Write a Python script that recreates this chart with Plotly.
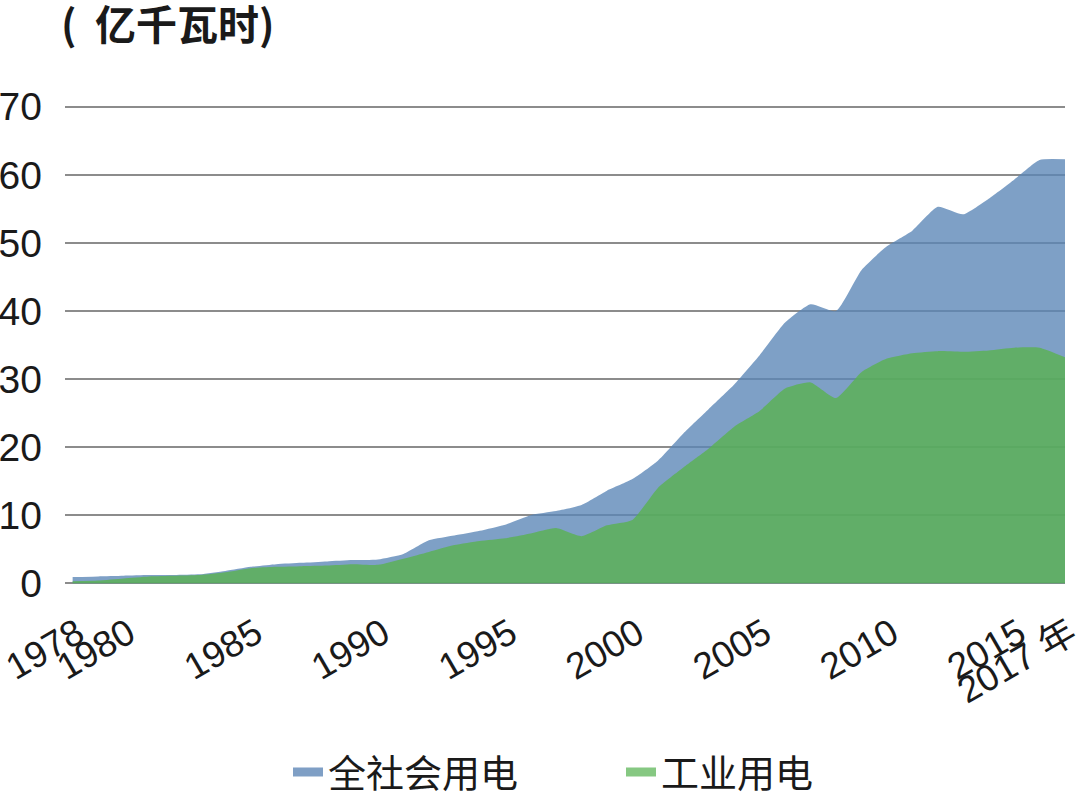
import plotly.graph_objects as go

# 1978-2017, values
years = list(range(1978, 2018))

total_use = [
    0.9, 1.0, 1.1, 1.2, 1.2, 1.3, 1.8, 2.4, 2.8, 3.0,
    3.2, 3.4, 3.5, 4.3, 6.3, 7.0, 7.7, 8.6, 10.0, 10.6,
    11.5, 13.6, 15.3, 18.0, 22.0, 25.6, 29.2, 33.5, 38.3, 41.0,
    40.0, 46.0, 49.5, 51.8, 55.3, 54.2, 56.5, 59.3, 62.2, 62.3,
]
industry_use = [
    0.3, 0.4, 0.7, 1.0, 1.1, 1.2, 1.6, 2.2, 2.4, 2.5,
    2.6, 2.8, 2.7, 3.6, 4.6, 5.6, 6.2, 6.6, 7.3, 8.1,
    6.9, 8.5, 9.3, 14.0, 17.0, 19.8, 23.0, 25.3, 28.6, 29.5,
    27.2, 31.0, 33.0, 33.8, 34.1, 34.0, 34.2, 34.6, 34.6, 33.2,
]

tick_years = [1978, 1980, 1985, 1990, 1995, 2000, 2005, 2010, 2015, 2017]
tick_text = ["1978", "1980", "1985", "1990", "1995", "2000", "2005", "2010", "2015", "2017 年"]
y_ticks = [0, 10, 20, 30, 40, 50, 60, 70]

FONT = "Liberation Sans, Arial, Noto Sans CJK SC"
CJK = "Noto Sans CJK SC"

fig = go.Figure()
fig.add_trace(go.Scatter(
    x=years, y=total_use, name="全社会用电",
    mode="lines", fill="tozeroy", line_shape="spline", line_smoothing=0.5,
    line=dict(width=0, color="rgba(90,133,182,0.78)"),
    fillcolor="rgba(90,133,182,0.78)",
    showlegend=False,
))
fig.add_trace(go.Scatter(
    x=years, y=industry_use, name="工业用电",
    mode="lines", fill="tozeroy", line_shape="spline", line_smoothing=0.5,
    line=dict(width=0, color="rgba(89,178,77,0.78)"),
    fillcolor="rgba(89,178,77,0.78)",
    showlegend=False,
))
# legend-only entries, drawn as thick lines like the original
fig.add_trace(go.Scatter(
    x=[None], y=[None], name="全社会用电", mode="lines",
    line=dict(width=9, color="#7f9fc5"),
))
fig.add_trace(go.Scatter(
    x=[None], y=[None], name="工业用电", mode="lines",
    line=dict(width=9, color="#86c882"),
))

fig.add_annotation(
    text="<b>(  亿千瓦时)</b>", xref="paper", yref="paper", x=-0.006, y=1.16,
    xanchor="left", yanchor="middle", showarrow=False,
    font=dict(family=CJK, size=41, color="#1a1a1a"),
)

fig.update_layout(
    width=1080,
    height=797,
    margin=dict(l=65, r=15, t=100, b=207),
    paper_bgcolor="white",
    plot_bgcolor="white",
    font=dict(family=FONT, size=38, color="#1a1a1a"),
    legend=dict(
        orientation="h",
        x=0.223, xref="paper",
        y=0.031, yref="container",
        xanchor="left", yanchor="middle",
        font=dict(family=CJK, size=38, color="#1a1a1a"),
        entrywidth=288,
        itemwidth=30,
    ),
    xaxis=dict(
        range=[1977.7, 2017],
        tickvals=tick_years,
        ticktext=tick_text,
        tickangle=-30,
        showgrid=False,
        zeroline=False,
        showline=False,
        ticks="",
        ticklabelstandoff=14,
        ticklabelshift=5,
        ticklabeloverflow="allow",
        tickfont=dict(family=FONT, size=37),
        automargin=False,
    ),
    yaxis=dict(
        range=[-1, 71],
        tickvals=y_ticks,
        showgrid=True,
        gridcolor="#8c8c8c",
        gridwidth=2,
        zeroline=False,
        showline=False,
        ticks="",
        ticklabelstandoff=22,
        ticklabeloverflow="allow",
        tickfont=dict(family=FONT, size=39),
        automargin=False,
    ),
)

# drop the page's default body margin so the figure sits at the window corner
fig.write_html(
    "out.html",
    config={"displayModeBar": False},
    post_script="document.body.style.margin = '0';",
)
